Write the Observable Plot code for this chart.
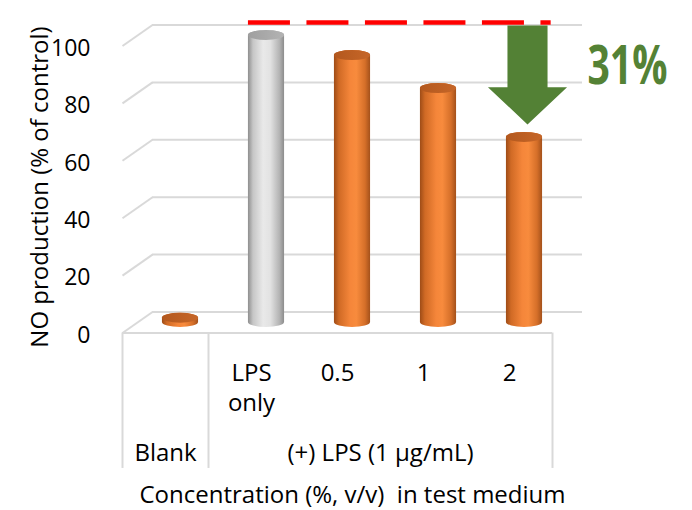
<!DOCTYPE html>
<html>
<head>
<meta charset="utf-8">
<script src="https://cdn.jsdelivr.net/npm/d3@7"></script>
<script src="https://cdn.jsdelivr.net/npm/@observablehq/plot@0.6"></script>
<style>
  html, body { margin: 0; padding: 0; background: #fff; }
  svg.defs { position: absolute; width: 0; height: 0; }
</style>
</head>
<body>
<svg class="defs" aria-hidden="true">
  <defs>
    <linearGradient id="orangeBody" x1="0" x2="1" y1="0" y2="0">
      <stop offset="0" stop-color="#9e4c17"/>
      <stop offset="0.14" stop-color="#d06a25"/>
      <stop offset="0.45" stop-color="#f5863a"/>
      <stop offset="0.62" stop-color="#f88b3d"/>
      <stop offset="0.86" stop-color="#d56f29"/>
      <stop offset="1" stop-color="#a4511b"/>
    </linearGradient>
    <linearGradient id="orangeTop" x1="0" x2="1" y1="0" y2="0">
      <stop offset="0" stop-color="#b3581e"/>
      <stop offset="1" stop-color="#c66628"/>
    </linearGradient>
    <linearGradient id="grayBody" x1="0" x2="1" y1="0" y2="0">
      <stop offset="0" stop-color="#8e8e8e"/>
      <stop offset="0.14" stop-color="#c6c6c6"/>
      <stop offset="0.42" stop-color="#e9e9e9"/>
      <stop offset="0.62" stop-color="#e2e2e2"/>
      <stop offset="0.87" stop-color="#b4b4b4"/>
      <stop offset="1" stop-color="#8c8c8c"/>
    </linearGradient>
    <linearGradient id="grayTop" x1="0" x2="1" y1="0" y2="0">
      <stop offset="0" stop-color="#9f9f9f"/>
      <stop offset="1" stop-color="#b3b3b3"/>
    </linearGradient>
  </defs>
</svg>
<div id="chart"></div>
<script>
// ---- data ----
const categories = ["Blank", "LPS only", "0.5", "1", "2"];
const categoryLabels = ["", "LPS\nonly", "0.5", "1", "2"];
const values = [1.5, 100, 93, 81.5, 64.5];
const series = ["sample", "control", "sample", "sample", "sample"];
const groupLabels = ["Blank", "(+) LPS (1 µg/mL)"];
const groupFrom = [0, 1];
const groupTo = [0, 4];
const yTicks = [0, 20, 40, 60, 80, 100];
const reduction = 31;
const referenceLevel = 100;
const yTitle = "NO production (% of control)";
const xTitle = "Concentration (%, v/v)\u00a0 in test medium";

// ---- layout / style constants ----
const W = 692, H = 510;
const mL = 137, mR = 125, mT = 35, mB = 188;
const pxPerX = (W - mL - mR) / 5;      // px per category step
const pxPerY = (H - mT - mB) / 100;    // px per y unit
const depthX = 15, depthY = 10.5;      // half depth of the 3D box (px)
const DXU = depthX / pxPerX, DYU = depthY / pxPerY;
const HALF = 0.21;                     // half bar width in category units
const RX = HALF * pxPerX, RY = 5;
const grid = "#d9d9d9";
const green = "#538135";
const font = 24;

const data = categories.map((c, i) => ({
  category: c, i, value: values[i], series: series[i], label: categoryLabels[i]
}));
const groups = groupLabels.map((g, k) => ({label: g, from: groupFrom[k], to: groupTo[k]}));
const dividers = [-0.5, ...groups.map(g => g.to + 0.5)];

// arrow annotation (down arrow from the reference level to 100 - reduction)
const ax = categories.length - 1;
const arrowTop = 103.5, arrowTip = referenceLevel - reduction, headBase = arrowTip + 13;
const sw = 0.233, hw = 0.46;
const arrowPts = [
  {x: ax - sw, y: arrowTop}, {x: ax + sw, y: arrowTop}, {x: ax + sw, y: headBase},
  {x: ax + hw, y: headBase}, {x: ax, y: arrowTip}, {x: ax - hw, y: headBase},
  {x: ax - sw, y: headBase}
];
const reductionLabel = `${reduction}%`;

const chart = Plot.plot({
  width: W, height: H,
  marginLeft: mL, marginRight: mR, marginTop: mT, marginBottom: mB,
  x: {domain: [-0.5, 4.5], axis: null},
  y: {domain: [0, 100], axis: null},
  style: {fontFamily: "'Open Sans', sans-serif", fontSize: font + "px", color: "#000", background: "#fff", overflow: "visible"},
  marks: [
    // back wall gridlines
    Plot.ruleY(yTicks, {dx: depthX, dy: -depthY, stroke: grid, strokeWidth: 2}),
    // left side wall diagonals
    Plot.link(yTicks, {x1: -0.5 + DXU, y1: d => d + DYU, x2: -0.5 - DXU, y2: d => d - DYU, stroke: grid, strokeWidth: 2}),
    // front floor edge
    Plot.ruleY([0], {dx: -depthX, dy: depthY, stroke: grid, strokeWidth: 2}),
    // category table dividers
    Plot.ruleX(dividers, {y1: 0, y2: -47.2, dx: -depthX, dy: depthY, stroke: grid, strokeWidth: 2}),
    // cylinder bodies
    Plot.rect(data, {filter: d => d.series === "sample", x1: d => d.i - HALF, x2: d => d.i + HALF, y1: 0, y2: "value",
      rx: RX, ry: RY, insetTop: -RY, insetBottom: -RY, fill: "url(#orangeBody)"}),
    Plot.rect(data, {filter: d => d.series === "control", x1: d => d.i - HALF, x2: d => d.i + HALF, y1: 0, y2: "value",
      rx: RX, ry: RY, insetTop: -RY, insetBottom: -RY, fill: "url(#grayBody)"}),
    // cylinder tops
    Plot.rect(data, {filter: d => d.series === "sample", x1: d => d.i - HALF, x2: d => d.i + HALF, y1: "value", y2: "value",
      rx: RX, ry: RY, insetTop: -RY, insetBottom: -RY, fill: "url(#orangeTop)"}),
    Plot.rect(data, {filter: d => d.series === "control", x1: d => d.i - HALF, x2: d => d.i + HALF, y1: "value", y2: "value",
      rx: RX, ry: RY, insetTop: -RY, insetBottom: -RY, fill: "url(#grayTop)"}),
    // red dashed reference line
    Plot.ruleY([referenceLevel], {x1: 1 - HALF, x2: 4.31, dy: -13, stroke: "#ff0000", strokeWidth: 4.5, strokeDasharray: "42 16.5"}),
    // green arrow
    Plot.line(arrowPts, {x: "x", y: "y", fill: green, stroke: "none", dx: 3}),
    Plot.text([reductionLabel], {x: ax, y: 89, dx: 63, textAnchor: "start", fontSize: 54, fontWeight: 700, fill: "#548235"}),
    // y tick labels
    Plot.text(yTicks, {y: d => d, text: d => String(d), frameAnchor: "left", textAnchor: "end", dx: -47, dy: 13, fontSize: 23}),
    // y title
    Plot.text([yTitle], {frameAnchor: "left", textAnchor: "middle", lineAnchor: "middle", rotate: -90, dx: -97, dy: 8, fontSize: font}),
    // category labels
    Plot.text(data, {x: "i", text: "label", frameAnchor: "bottom", lineAnchor: "top", dx: -depthX, dy: 38, lineHeight: 1.22, fontSize: font}),
    // group labels
    Plot.text(groups, {x: g => (g.from + g.to) / 2, text: "label", frameAnchor: "bottom", lineAnchor: "top", dx: -depthX, dy: 121, fontSize: font}),
    // x title
    Plot.text([xTitle], {frameAnchor: "bottom", lineAnchor: "middle", dy: 172.6, fontSize: font})
  ]
});
// condense the large annotation label to the width it has in the reference
d3.select(chart).selectAll("text")
  .filter(function () { return this.textContent === reductionLabel; })
  .attr("textLength", 80).attr("lengthAdjust", "spacingAndGlyphs");
document.getElementById("chart").appendChild(chart);
</script>
</body>
</html>
